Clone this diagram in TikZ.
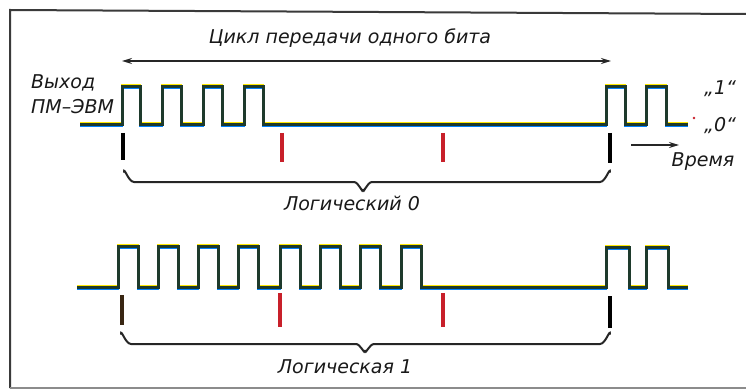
\documentclass[tikz,border=0pt]{standalone}
\usepackage{fontspec}
\setmainfont{DejaVu Sans}
\usetikzlibrary{arrows.meta}
\definecolor{wave}{HTML}{1E3A2C}
\definecolor{tickred}{HTML}{C8202A}
\definecolor{frame}{HTML}{3A3A3A}
\tikzset{
  lbl/.style={font=\fontsize{19}{21}\selectfont\itshape, inner sep=0pt, text=black!90},
  wavemain/.style={draw=wave, line width=3pt, line join=miter},
  waveyel/.style={draw=yellow!90!orange, line width=1.8pt},
  waveblu/.style={draw=blue!50!cyan, line width=1.8pt},
  tickblack/.style={draw=black, line width=3.2pt},
  tickredst/.style={draw=tickred, line width=3.2pt},
  bracest/.style={draw=black!85, line width=2pt, line cap=round},
  arrowst/.style={draw=black!85, line width=1.5pt, -{Stealth[length=10pt,width=6pt]}},
}
\begin{document}
\begin{tikzpicture}[x=1pt,y=-1pt]
\useasboundingbox (0,0) rectangle (746,390);
\fill[white] (0,0) rectangle (746,390);
% frame
\draw[frame, line width=2pt] (10,388) -- (10,10) -- (746,14);
\draw[black!45, line width=1.6pt] (10,388) -- (746,388);

% ---------- top waveform ----------
\def\topwave{(80,125) -- (122,125) -- (122,87) -- (140,87) -- (140,125)
  -- (162,125) -- (162,87) -- (181,87) -- (181,125)
  -- (203,125) -- (203,87) -- (222,87) -- (222,125)
  -- (244,125) -- (244,87) -- (263,87) -- (263,125)
  -- (606,125) -- (606,87) -- (625,87) -- (625,125)
  -- (646,125) -- (646,87) -- (666,87) -- (666,125) -- (688,125)}
\begin{scope}[shift={(0,-1.6)}]\draw[waveyel] \topwave;\end{scope}
\begin{scope}[shift={(0,1.6)}]\draw[waveblu] \topwave;\end{scope}
\draw[wavemain] \topwave;

% ---------- bottom waveform ----------
\def\botwave{(77,287) -- (118,287) -- (118,246) -- (138,246) -- (138,287)
  -- (158,287) -- (158,246) -- (178,246) -- (178,287)
  -- (198,287) -- (198,246) -- (218,246) -- (218,287)
  -- (238,287) -- (238,246) -- (258,246) -- (258,287)
  -- (280,287) -- (280,246) -- (300,246) -- (300,287)
  -- (320,287) -- (320,246) -- (340,246) -- (340,287)
  -- (360,287) -- (360,246) -- (380,246) -- (380,287)
  -- (401,287) -- (401,246) -- (421,246) -- (421,287)
  -- (606,287) -- (606,247) -- (629,247) -- (629,287)
  -- (646,287) -- (646,247) -- (668,247) -- (668,287) -- (688,287)}
\begin{scope}[shift={(0,-1.6)}]\draw[waveyel] \botwave;\end{scope}
\begin{scope}[shift={(0,1.6)}]\draw[waveblu] \botwave;\end{scope}
\draw[wavemain] \botwave;

% ---------- tick marks ----------
\coordinate (t1a) at (123,133); \coordinate (t1b) at (123,160);
\coordinate (t2a) at (282,133); \coordinate (t2b) at (282,162);
\coordinate (t3a) at (443,133); \coordinate (t3b) at (443,162);
\coordinate (t4a) at (610,133); \coordinate (t4b) at (610,163);
\draw[tickblack] (t1a) -- (t1b);
\draw[tickredst] (t2a) -- (t2b);
\draw[tickredst] (t3a) -- (t3b);
\draw[tickblack] (t4a) -- (t4b);

\coordinate (b1a) at (122,295); \coordinate (b1b) at (122,325);
\coordinate (b2a) at (280,293); \coordinate (b2b) at (280,327);
\coordinate (b3a) at (443,293); \coordinate (b3b) at (443,327);
\coordinate (b4a) at (610,296); \coordinate (b4b) at (610,328);
\draw[black!70!brown, line width=3.2pt] (b1a) -- (b1b);
\draw[tickredst] (b2a) -- (b2b);
\draw[tickredst] (b3a) -- (b3b);
\draw[tickblack] (b4a) -- (b4b);

% ---------- braces ----------
\draw[bracest] (124,172) to[out=90,in=180] (134,182) -- (354,182)
  to[out=0,in=-90] (363,190) to[out=-90,in=180] (372,182) -- (600,182)
  to[out=0,in=90] (610,172);
\draw[bracest] (121,334) to[out=90,in=180] (131,344) -- (356,344)
  to[out=0,in=-90] (365,351) to[out=-90,in=180] (374,344) -- (600,344)
  to[out=0,in=90] (610,334);

% ---------- arrows ----------
\coordinate (cycL) at (122,61);
\coordinate (cycR) at (611,61);
\draw[arrowst, {Stealth[length=10pt,width=6pt]}-{Stealth[length=10pt,width=6pt]}] (cycL) -- (cycR);
\coordinate (timeL) at (631,145);
\coordinate (timeR) at (679,145);
\draw[arrowst] (timeL) -- (timeR);

% ---------- labels ----------
\node[lbl] (cycle) at (350,38) {Цикл передачи одного бита};
\node[lbl, anchor=west] (out1) at (31,83) {Выход};
\node[lbl, anchor=west] (out2) at (31,107) {ПМ–ЭВМ};
\node[lbl] (log0) at (352,203) {Логический 0};
\node[lbl] (log1) at (345,367) {Логическая 1};
\node[lbl] (time) at (703,162) {Время};
\node[lbl, anchor=west] (one) at (704,89) {„1“};
\node[lbl, anchor=west] (zero) at (704,126) {„0“};
\fill[tickred] (694,118) circle (1.4pt);
\end{tikzpicture}
\end{document}
